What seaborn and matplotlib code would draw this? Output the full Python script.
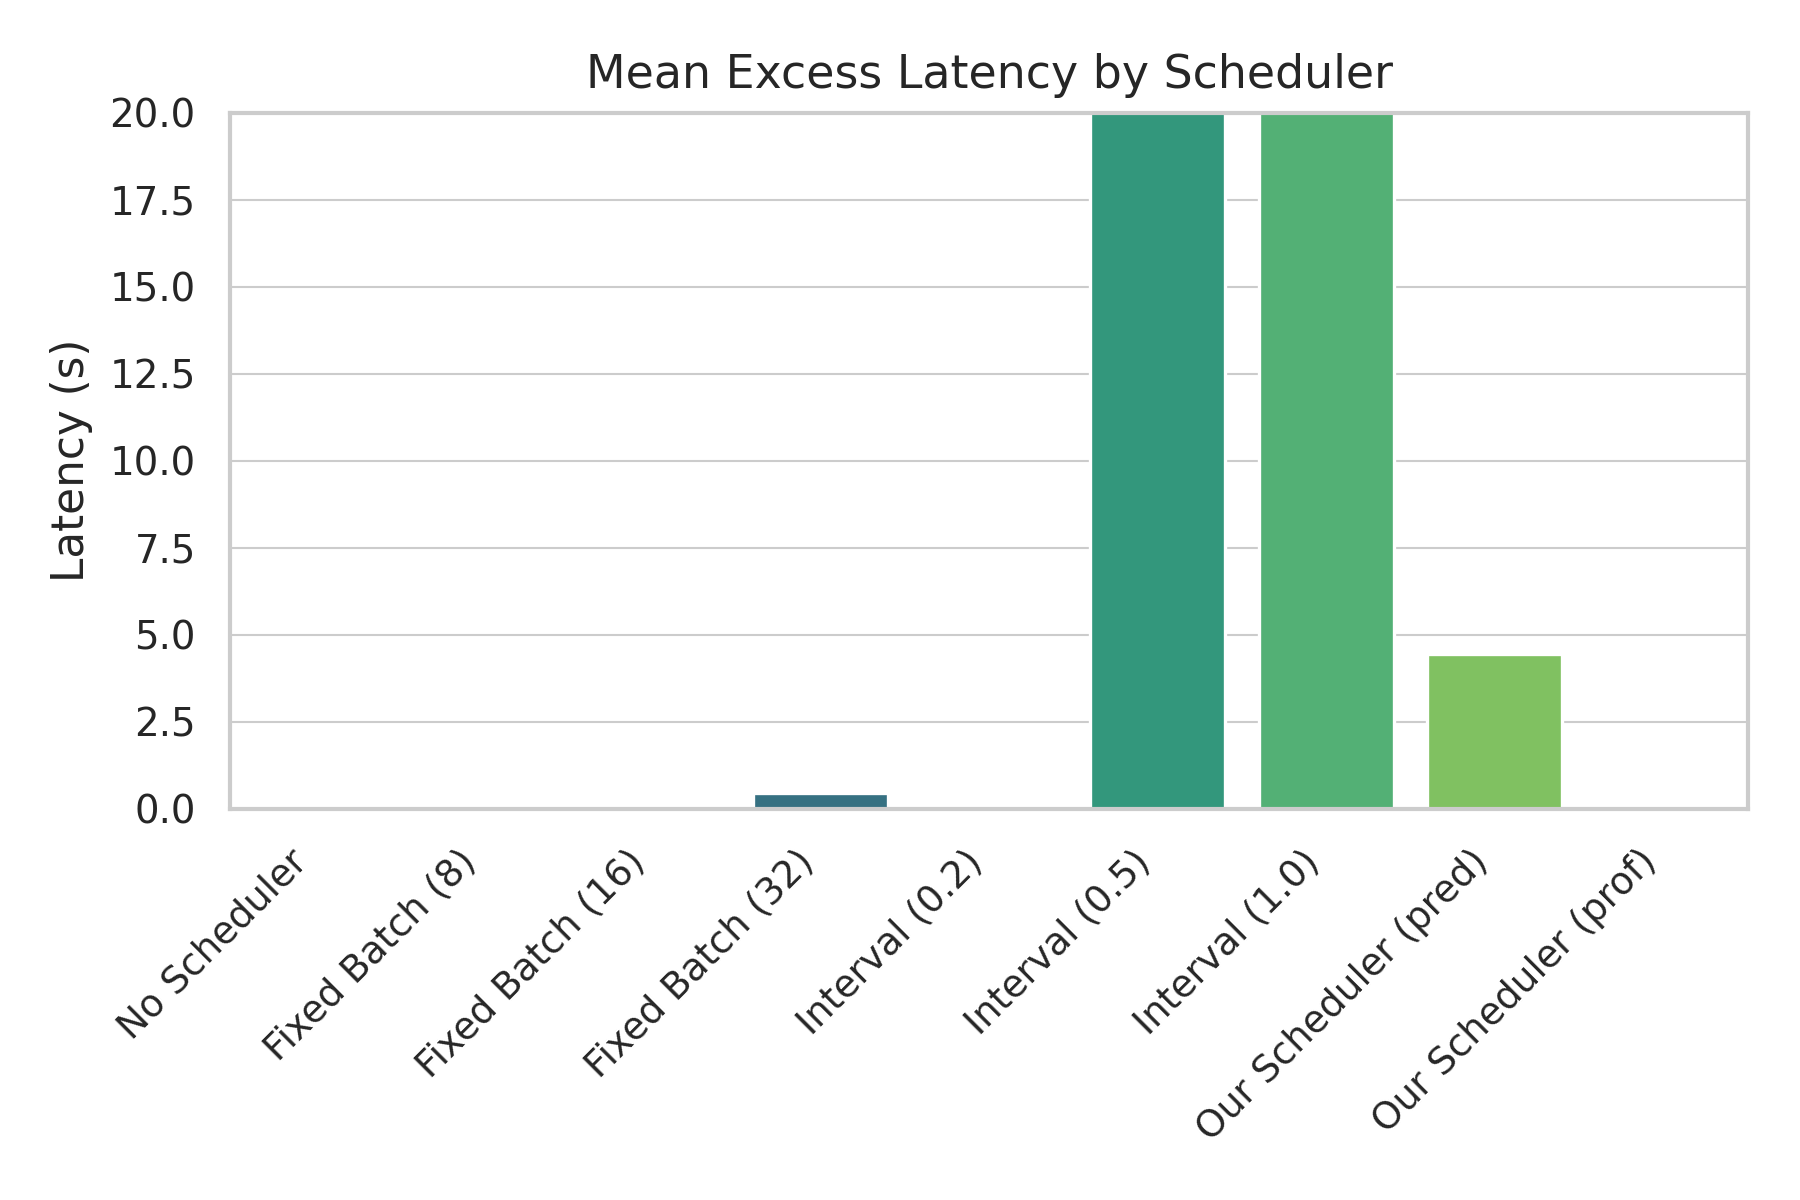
import numpy as np
import pandas as pd
import seaborn as sns
import matplotlib.pyplot as plt

schedulers = [
    "No Scheduler",
    "Fixed Batch (8)",
    "Fixed Batch (16)",
    "Fixed Batch (32)",
    "Interval (0.2)",
    "Interval (0.5)",
    "Interval (1.0)",
    "Our Scheduler (pred)",
    "Our Scheduler (prof)",
]
# mean excess latency in seconds (Interval 0.5 / 1.0 run past the 20 s cap)
latency = [0.0, 0.0, 0.12, 0.45, 0.0, 24.0, 26.0, 4.45, 0.0]

df = pd.DataFrame({"Scheduler": schedulers, "Latency": latency})

sns.set_theme(style="whitegrid", context="paper")
plt.rcParams["grid.linewidth"] = 0.5
plt.rcParams["xtick.labelsize"] = 9
plt.rcParams["ytick.labelsize"] = 9.3
fig, ax = plt.subplots(figsize=(6, 4))
sns.barplot(data=df, x="Scheduler", y="Latency", hue="Scheduler",
            palette="viridis", legend=False, ax=ax)
ax.set_ylim(0, 20)
ax.set_yticks(np.arange(0, 20.1, 2.5))
ax.set_title("Mean Excess Latency by Scheduler", fontsize=11)
ax.set_xlabel("")
ax.set_ylabel("Latency (s)", fontsize=10.5)
plt.setp(ax.get_xticklabels(), rotation=45, ha="right")
fig.subplots_adjust(left=0.128, right=0.971, top=0.906, bottom=0.326)
plt.savefig("out.png", dpi=300)
